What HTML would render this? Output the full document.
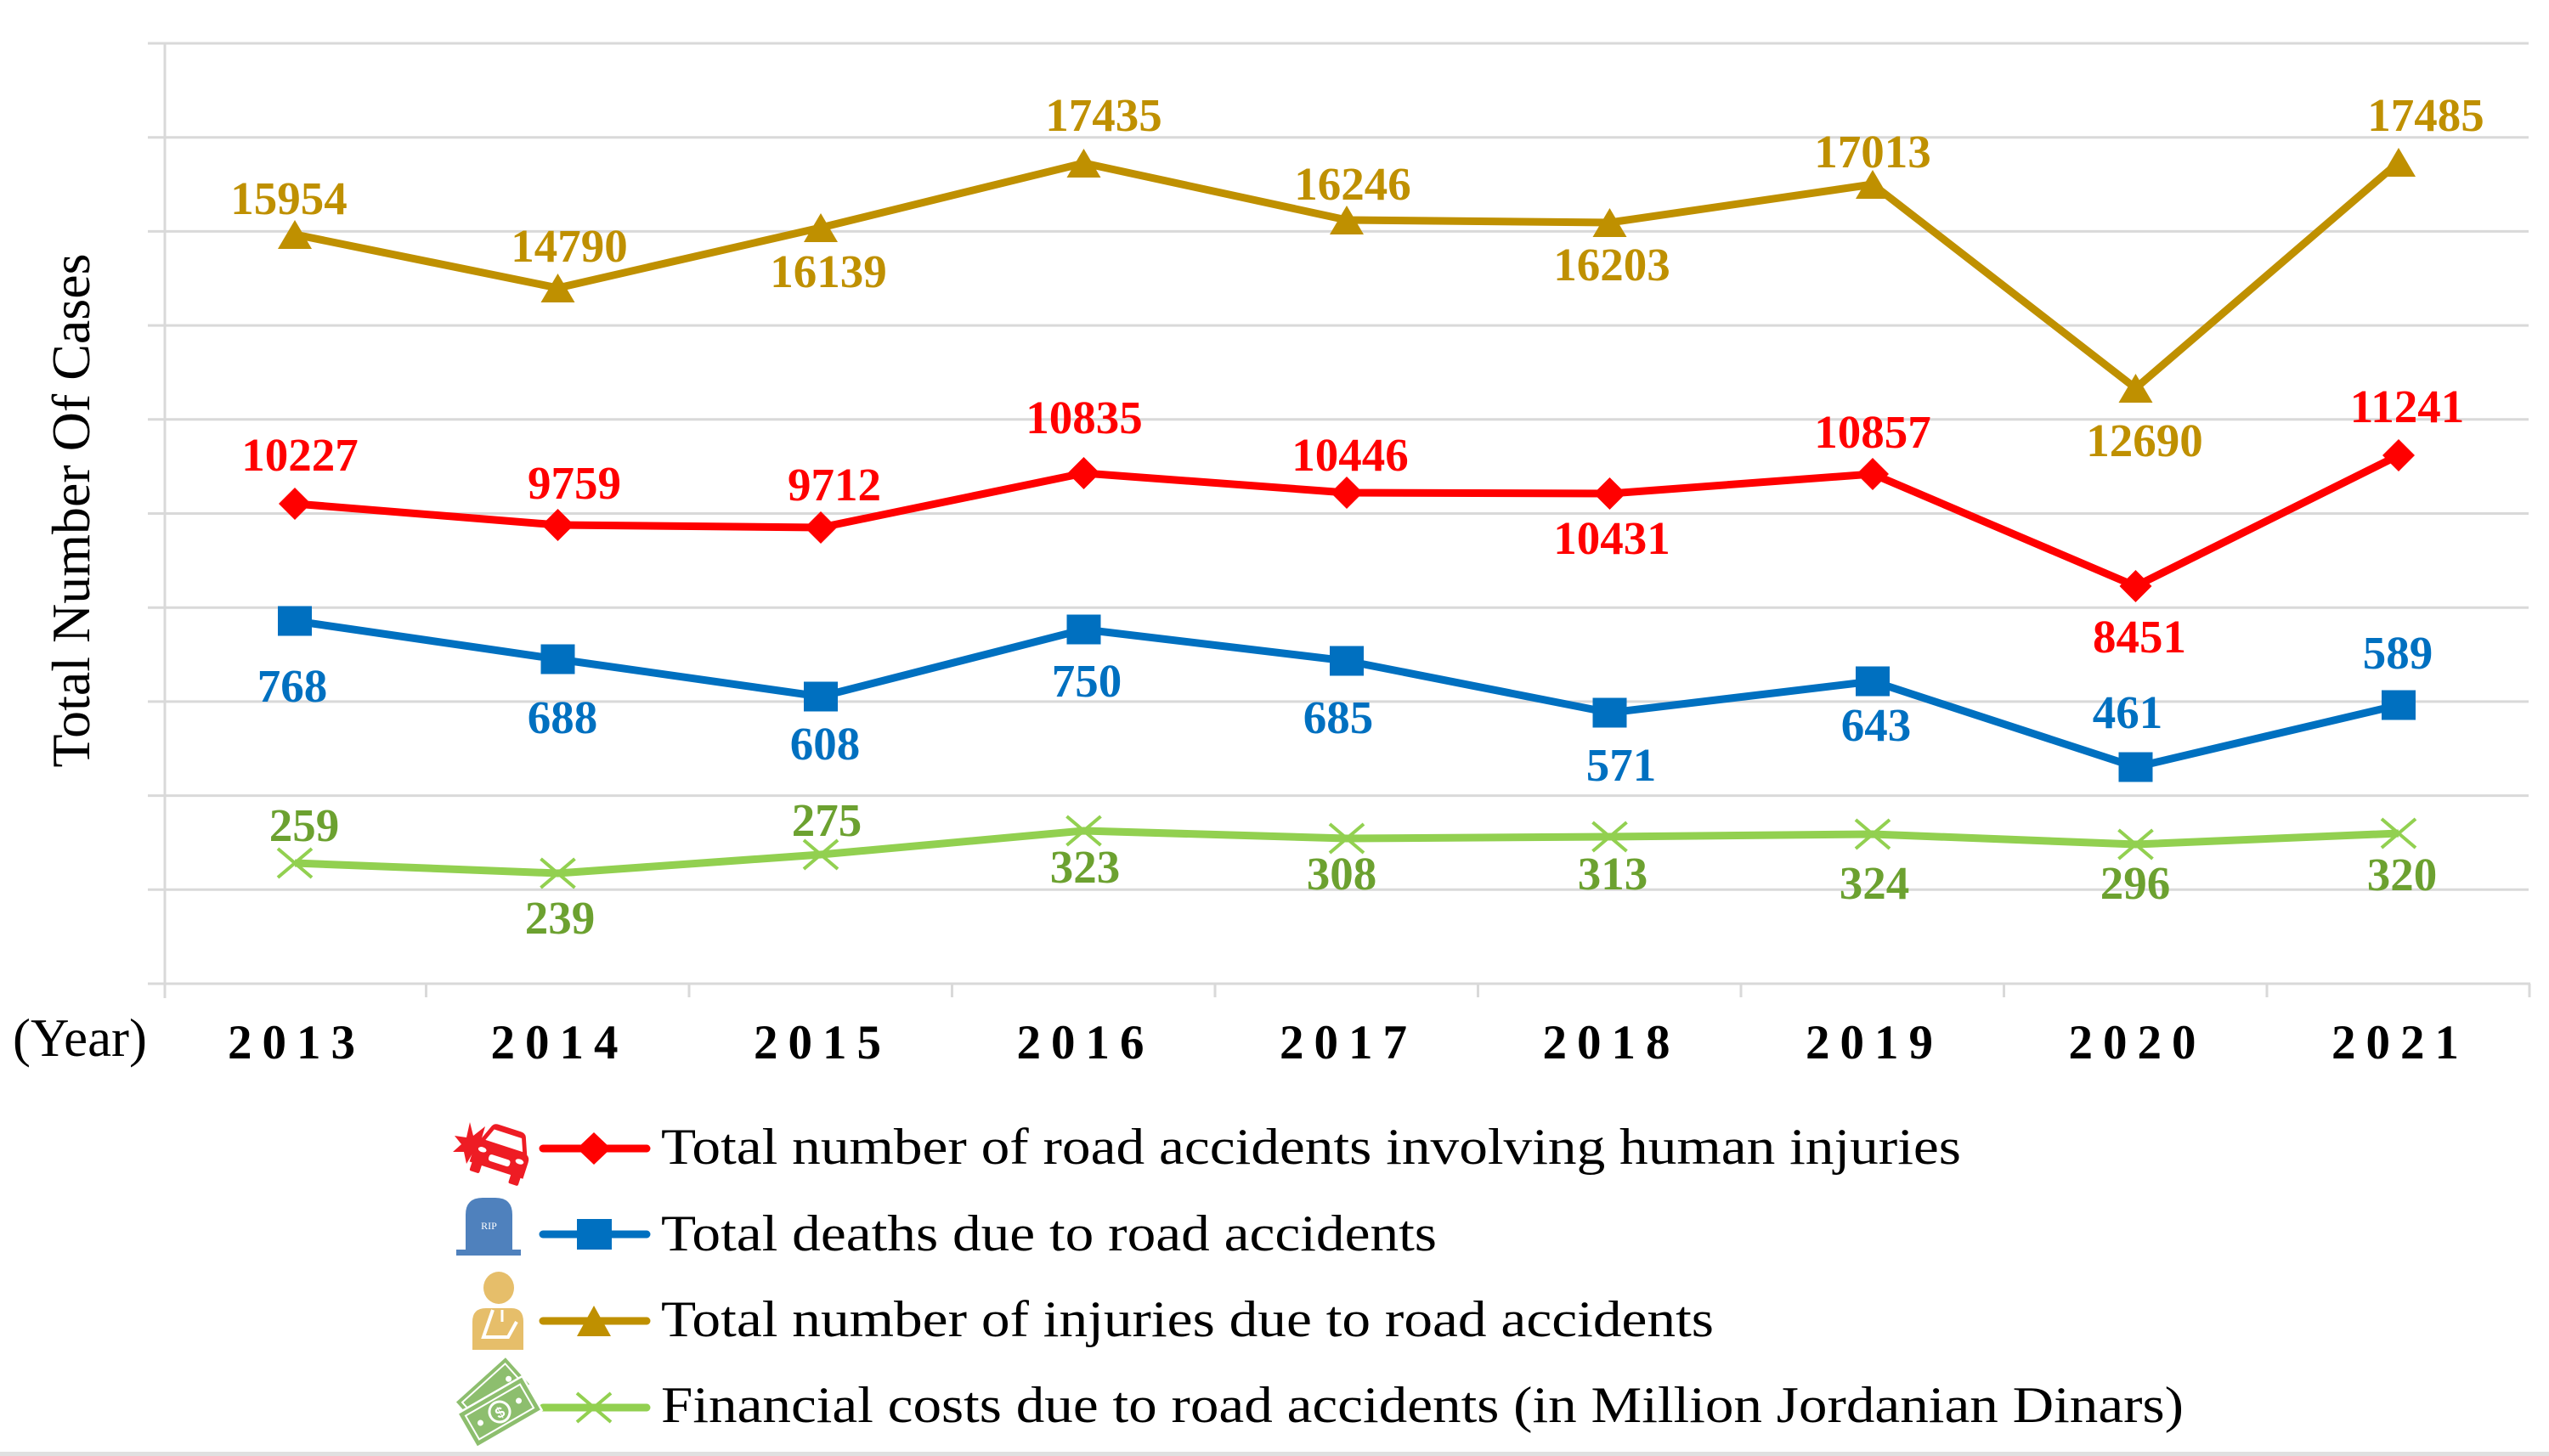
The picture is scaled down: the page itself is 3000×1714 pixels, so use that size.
<!DOCTYPE html>
<html>
<head>
<meta charset="utf-8">
<style>
html,body{margin:0;padding:0;background:#fff;}
svg{display:block;}
</style>
</head>
<body>
<svg width="3000" height="1714" viewBox="0 0 3000 1714" xmlns="http://www.w3.org/2000/svg">
<rect x="0" y="0" width="3000" height="1714" fill="#ffffff"/>
<!-- gridlines -->
<g stroke="#D9D9D9" stroke-width="3">
<line x1="174" y1="51" x2="2976" y2="51"/>
<line x1="174" y1="161.7" x2="2976" y2="161.7"/>
<line x1="174" y1="272.4" x2="2976" y2="272.4"/>
<line x1="174" y1="383.1" x2="2976" y2="383.1"/>
<line x1="174" y1="493.8" x2="2976" y2="493.8"/>
<line x1="174" y1="604.5" x2="2976" y2="604.5"/>
<line x1="174" y1="715.2" x2="2976" y2="715.2"/>
<line x1="174" y1="825.9" x2="2976" y2="825.9"/>
<line x1="174" y1="936.6" x2="2976" y2="936.6"/>
<line x1="174" y1="1047.3" x2="2976" y2="1047.3"/>
<line x1="174" y1="1158" x2="2978" y2="1158"/>
<line x1="194" y1="51" x2="194" y2="1175"/>
<line x1="501.5" y1="1158" x2="501.5" y2="1174"/>
<line x1="811" y1="1158" x2="811" y2="1174"/>
<line x1="1120.5" y1="1158" x2="1120.5" y2="1174"/>
<line x1="1430" y1="1158" x2="1430" y2="1174"/>
<line x1="1739.5" y1="1158" x2="1739.5" y2="1174"/>
<line x1="2049" y1="1158" x2="2049" y2="1174"/>
<line x1="2358.5" y1="1158" x2="2358.5" y2="1174"/>
<line x1="2668" y1="1158" x2="2668" y2="1174"/>
<line x1="2977" y1="1158" x2="2977" y2="1174"/>
</g>

<!-- Gold series: injuries -->
<polyline fill="none" stroke="#BF9000" stroke-width="9" stroke-linejoin="round"
 points="347,276 656.5,339 966,268 1275.5,192 1585,259 1894.5,262 2204,217 2513.5,457 2823,191"/>
<g fill="#BF9000">
<polygon points="347,259 327,293 367,293"/>
<polygon points="656.5,322 636.5,356 676.5,356"/>
<polygon points="966,251 946,285 986,285"/>
<polygon points="1275.5,175 1255.5,209 1295.5,209"/>
<polygon points="1585,242 1565,276 1605,276"/>
<polygon points="1894.5,245 1874.5,279 1914.5,279"/>
<polygon points="2204,200 2184,234 2224,234"/>
<polygon points="2513.5,440 2493.5,474 2533.5,474"/>
<polygon points="2823,174 2803,208 2843,208"/>
</g>

<!-- Red series -->
<polyline fill="none" stroke="#FF0000" stroke-width="9" stroke-linejoin="round"
 points="347,593 656.5,618 966,621 1275.5,557 1585,580 1894.5,581 2204,558 2513.5,690 2823,536"/>
<g fill="#FF0000">
<polygon points="347,574 366,593 347,612 328,593"/>
<polygon points="656.5,599 675.5,618 656.5,637 637.5,618"/>
<polygon points="966,602 985,621 966,640 947,621"/>
<polygon points="1275.5,538 1294.5,557 1275.5,576 1256.5,557"/>
<polygon points="1585,561 1604,580 1585,599 1566,580"/>
<polygon points="1894.5,562 1913.5,581 1894.5,600 1875.5,581"/>
<polygon points="2204,539 2223,558 2204,577 2185,558"/>
<polygon points="2513.5,671 2532.5,690 2513.5,709 2494.5,690"/>
<polygon points="2823,517 2842,536 2823,555 2804,536"/>
</g>

<!-- Blue series -->
<polyline fill="none" stroke="#0070C0" stroke-width="9" stroke-linejoin="round"
 points="347,731 656.5,776 966,820 1275.5,741 1585,778 1894.5,839 2204,802 2513.5,903 2823,830"/>
<g fill="#0070C0">
<rect x="327" y="713.5" width="40" height="35"/>
<rect x="636.5" y="758.5" width="40" height="35"/>
<rect x="946" y="802.5" width="40" height="35"/>
<rect x="1255.5" y="723.5" width="40" height="35"/>
<rect x="1565" y="760.5" width="40" height="35"/>
<rect x="1874.5" y="821.5" width="40" height="35"/>
<rect x="2184" y="784.5" width="40" height="35"/>
<rect x="2493.5" y="885.5" width="40" height="35"/>
<rect x="2803" y="812.5" width="40" height="35"/>
</g>

<!-- Green series -->
<polyline fill="none" stroke="#92D050" stroke-width="9" stroke-linejoin="round"
 points="347,1016 656.5,1028 966,1006 1275.5,978 1585,987 1894.5,985 2204,982 2513.5,994 2823,981"/>
<g stroke="#92D050" stroke-width="4" fill="none">
<path d="M327,999 L367,1033 M327,1033 L367,999"/>
<path d="M636.5,1011 L676.5,1045 M636.5,1045 L676.5,1011"/>
<path d="M946,989 L986,1023 M946,1023 L986,989"/>
<path d="M1255.5,961 L1295.5,995 M1255.5,995 L1295.5,961"/>
<path d="M1565,970 L1605,1004 M1565,1004 L1605,970"/>
<path d="M1874.5,968 L1914.5,1002 M1874.5,1002 L1914.5,968"/>
<path d="M2184,965 L2224,999 M2184,999 L2224,965"/>
<path d="M2493.5,977 L2533.5,1011 M2493.5,1011 L2533.5,977"/>
<path d="M2803,964 L2843,998 M2803,998 L2843,964"/>
</g>

<!-- Data labels -->
<g font-family="'Liberation Serif', 'Times New Roman', serif" font-weight="bold" font-size="55" text-anchor="middle">
<g fill="#BF9000">
<text x="340" y="252">15954</text>
<text x="670" y="308">14790</text>
<text x="975" y="338">16139</text>
<text x="1299" y="154">17435</text>
<text x="1592" y="235">16246</text>
<text x="1897" y="330">16203</text>
<text x="2204" y="197">17013</text>
<text x="2524" y="537">12690</text>
<text x="2855" y="154">17485</text>
</g>
<g fill="#FF0000">
<text x="353" y="554">10227</text>
<text x="676" y="587">9759</text>
<text x="982" y="589">9712</text>
<text x="1276" y="510">10835</text>
<text x="1589" y="554">10446</text>
<text x="1897" y="652">10431</text>
<text x="2204" y="527">10857</text>
<text x="2518" y="768">8451</text>
<text x="2833" y="497">11241</text>
</g>
<g fill="#0070C0">
<text x="344" y="826">768</text>
<text x="662" y="863">688</text>
<text x="971" y="894">608</text>
<text x="1279" y="820">750</text>
<text x="1575" y="863">685</text>
<text x="1908" y="919">571</text>
<text x="2208" y="872">643</text>
<text x="2504" y="857">461</text>
<text x="2822" y="787">589</text>
</g>
<g fill="#6CA130">
<text x="358" y="990">259</text>
<text x="659" y="1099">239</text>
<text x="973" y="984">275</text>
<text x="1277" y="1039">323</text>
<text x="1579" y="1047">308</text>
<text x="1898" y="1047">313</text>
<text x="2206" y="1058">324</text>
<text x="2513" y="1058">296</text>
<text x="2827" y="1048">320</text>
</g>
</g>

<!-- Y axis title -->
<text transform="translate(105,601) rotate(-90)" font-family="'Liberation Serif', 'Times New Roman', serif" font-size="64" text-anchor="middle" fill="#000" textLength="605" lengthAdjust="spacingAndGlyphs">Total Number Of Cases</text>

<!-- X axis labels -->
<text x="15" y="1243" font-family="'Liberation Serif', 'Times New Roman', serif" font-size="64" fill="#000" textLength="158" lengthAdjust="spacingAndGlyphs">(Year)</text>
<g font-family="'Liberation Serif', 'Times New Roman', serif" font-weight="bold" font-size="57" fill="#000">
<text x="268" y="1246" textLength="150" lengthAdjust="spacing">2013</text>
<text x="577.5" y="1246" textLength="150" lengthAdjust="spacing">2014</text>
<text x="887" y="1246" textLength="150" lengthAdjust="spacing">2015</text>
<text x="1196.5" y="1246" textLength="150" lengthAdjust="spacing">2016</text>
<text x="1506" y="1246" textLength="150" lengthAdjust="spacing">2017</text>
<text x="1815.5" y="1246" textLength="150" lengthAdjust="spacing">2018</text>
<text x="2125" y="1246" textLength="150" lengthAdjust="spacing">2019</text>
<text x="2434.5" y="1246" textLength="150" lengthAdjust="spacing">2020</text>
<text x="2744" y="1246" textLength="150" lengthAdjust="spacing">2021</text>
</g>

<!-- Legend -->
<g stroke-width="9" stroke-linecap="round">
<line x1="639" y1="1352" x2="761" y2="1352" stroke="#FF0000"/>
<line x1="639" y1="1453" x2="761" y2="1453" stroke="#0070C0"/>
<line x1="639" y1="1555" x2="761" y2="1555" stroke="#BF9000"/>
<line x1="639" y1="1657" x2="761" y2="1657" stroke="#92D050"/>
</g>
<polygon points="699,1333 719,1352 699,1371 679,1352" fill="#FF0000"/>
<rect x="679" y="1435" width="41" height="36" fill="#0070C0"/>
<polygon points="699,1537 679,1573 719,1573" fill="#BF9000"/>
<path d="M679,1640 L719,1674 M679,1674 L719,1640" stroke="#92D050" stroke-width="4"/>

<g font-family="'Liberation Serif', 'Times New Roman', serif" font-size="60" fill="#000">
<text x="778" y="1370" textLength="1530" lengthAdjust="spacingAndGlyphs">Total number of road accidents involving human injuries</text>
<text x="778" y="1472" textLength="913" lengthAdjust="spacingAndGlyphs">Total deaths due to road accidents</text>
<text x="778" y="1573" textLength="1239" lengthAdjust="spacingAndGlyphs">Total number of injuries due to road accidents</text>
<text x="778" y="1674" textLength="1792" lengthAdjust="spacingAndGlyphs">Financial costs due to road accidents (in Million Jordanian Dinars)</text>
</g>

<!-- Icon: car crash -->
<g fill="#EE1C24">
<polygon points="553,1321 557,1337 571,1326 566,1343 575,1347 565,1352 570,1366 556,1358 549,1370 546,1356 533,1356 543,1347 535,1337 549,1339"/>
<g transform="rotate(18 588 1362)">
<path d="M560,1350 L568,1330 Q570,1326 575,1326 L603,1326 Q608,1326 610,1330 L618,1350 Q622,1352 622,1358 L622,1378 L556,1378 L556,1358 Q556,1352 560,1350 Z"/>
<rect x="559" y="1376" width="12" height="12" rx="2"/>
<rect x="607" y="1376" width="12" height="12" rx="2"/>
<path d="M566,1348 L572,1333 L606,1333 L612,1348 Z" fill="#ffffff"/>
<ellipse cx="566" cy="1360" rx="5" ry="3" fill="#ffffff"/>
<ellipse cx="612" cy="1360" rx="5" ry="3" fill="#ffffff"/>
<rect x="576" y="1362" width="26" height="8" rx="3" fill="#ffffff"/>
</g>
</g>

<!-- Icon: tombstone -->
<path d="M548,1473 L548,1430 Q548,1410 568,1410 L583,1410 Q603,1410 603,1430 L603,1473 Z" fill="#4F81BD"/>
<rect x="537" y="1471" width="76" height="7" fill="#4F81BD"/>
<text x="575.5" y="1447" font-family="'Liberation Serif', serif" font-size="12" fill="#ffffff" text-anchor="middle">RIP</text>

<!-- Icon: injured person -->
<ellipse cx="587" cy="1516" rx="18" ry="19" fill="#E6BE6A"/>
<path d="M556,1589 L556,1556 Q556,1540 572,1540 L602,1540 Q616,1540 616,1556 L616,1589 Z" fill="#E6BE6A"/>
<path d="M580,1542 L569,1574 L598,1574 L608,1556" fill="none" stroke="#ffffff" stroke-width="4"/>
<path d="M591,1542 L591,1556" fill="none" stroke="#ffffff" stroke-width="3"/>

<!-- Icon: money -->
<g transform="rotate(-42 580 1640)">
<rect x="540" y="1618" width="80" height="44" fill="#8DBE6E" stroke="#ffffff" stroke-width="2"/>
<rect x="546" y="1624" width="68" height="32" fill="none" stroke="#ffffff" stroke-width="2"/>
<circle cx="555" cy="1640" r="3.5" fill="#ffffff"/>
<circle cx="605" cy="1640" r="3.5" fill="#ffffff"/>
</g>
<g transform="rotate(-30 588 1662)">
<rect x="544" y="1639" width="88" height="46" fill="#8DBE6E" stroke="#ffffff" stroke-width="2.5"/>
<rect x="551" y="1646" width="74" height="32" fill="none" stroke="#ffffff" stroke-width="2"/>
<circle cx="588" cy="1662" r="12" fill="none" stroke="#ffffff" stroke-width="3"/>
<text x="588" y="1669" font-family="'Liberation Sans', sans-serif" font-size="18" font-weight="bold" fill="#ffffff" text-anchor="middle">$</text>
<circle cx="562" cy="1662" r="3.5" fill="#ffffff"/>
<circle cx="614" cy="1662" r="3.5" fill="#ffffff"/>
</g>

<!-- bottom strip -->
<rect x="0" y="1709" width="3000" height="5" fill="#E0E0E0"/>
</svg>
</body>
</html>
